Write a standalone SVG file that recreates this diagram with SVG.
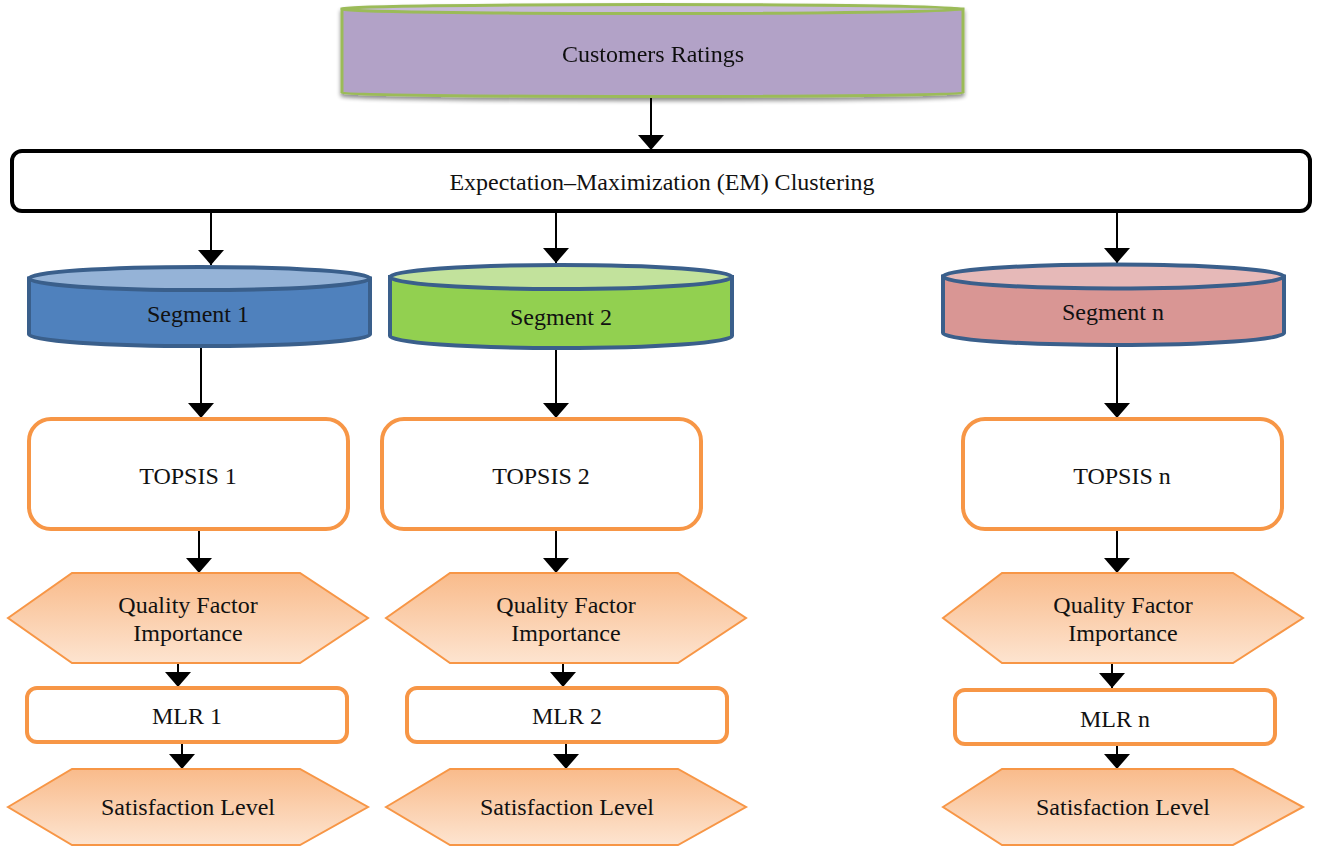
<svg xmlns="http://www.w3.org/2000/svg" width="1319" height="847" viewBox="0 0 1319 847">
  <defs>
    <style>
      .lbl { font-family: "Liberation Serif", "Times New Roman", serif; font-size: 24px; fill: #111; text-anchor: middle; }
      .wire { stroke: #000; stroke-width: 2; fill: none; }
      .orange { fill: #fff; stroke: #f79646; stroke-width: 4; }
      .hex { fill: url(#hexFill); stroke: #f79646; stroke-width: 2; }
      .seg { stroke: #3a5f8b; stroke-width: 4; }
    </style>
    <linearGradient id="hexFill" x1="0" y1="0" x2="0" y2="1">
      <stop offset="0" stop-color="#f9bb8b"/>
      <stop offset="1" stop-color="#fde4d0"/>
    </linearGradient>
    <filter id="shadow" x="-5%" y="-20%" width="110%" height="150%">
      <feGaussianBlur in="SourceAlpha" stdDeviation="2"/>
      <feOffset dy="3"/>
      <feComponentTransfer><feFuncA type="linear" slope="0.45"/></feComponentTransfer>
      <feMerge><feMergeNode/><feMergeNode in="SourceGraphic"/></feMerge>
    </filter>
    <marker id="head" viewBox="0 0 15 26" markerWidth="15" markerHeight="26" refX="15" refY="13" orient="auto" markerUnits="userSpaceOnUse">
      <path d="M0,0 L15,13 L0,26 Z" fill="#000"/>
    </marker>
  </defs>

  <rect width="1319" height="847" fill="#fff"/>

  <!-- connectors -->
  <g id="connectors">
    <line class="wire" x1="651" y1="97" x2="651" y2="150" marker-end="url(#head)"/>
    <line class="wire" x1="211" y1="212" x2="211" y2="265" marker-end="url(#head)"/>
    <line class="wire" x1="556" y1="212" x2="556" y2="263" marker-end="url(#head)"/>
    <line class="wire" x1="1117" y1="212" x2="1117" y2="263" marker-end="url(#head)"/>

    <line class="wire" x1="201" y1="347" x2="201" y2="418" marker-end="url(#head)"/>
    <line class="wire" x1="556" y1="349" x2="556" y2="418" marker-end="url(#head)"/>
    <line class="wire" x1="1117" y1="346" x2="1117" y2="418" marker-end="url(#head)"/>

    <line class="wire" x1="199" y1="530" x2="199" y2="573" marker-end="url(#head)"/>
    <line class="wire" x1="556" y1="530" x2="556" y2="573" marker-end="url(#head)"/>
    <line class="wire" x1="1117" y1="530" x2="1117" y2="573" marker-end="url(#head)"/>

    <line class="wire" x1="178" y1="663" x2="178" y2="687" marker-end="url(#head)"/>
    <line class="wire" x1="563" y1="663" x2="563" y2="687" marker-end="url(#head)"/>
    <line class="wire" x1="1112" y1="663" x2="1112" y2="688" marker-end="url(#head)"/>

    <line class="wire" x1="182" y1="743" x2="182" y2="769" marker-end="url(#head)"/>
    <line class="wire" x1="566" y1="743" x2="566" y2="769" marker-end="url(#head)"/>
    <line class="wire" x1="1117" y1="745" x2="1117" y2="769" marker-end="url(#head)"/>
  </g>

  <!-- data source -->
  <g id="customers-ratings" filter="url(#shadow)">
    <path d="M342,9 V93 A310.5,3.5 0 0 0 963,93 V9 Z" fill="#b2a2c7" stroke="#9bbb59" stroke-width="3"/>
    <ellipse cx="652.5" cy="9" rx="310.5" ry="4.5" fill="#c6bad8" stroke="#9bbb59" stroke-width="3"/>
    <text class="lbl" x="653" y="62">Customers Ratings</text>
  </g>

  <!-- clustering step -->
  <g id="em-clustering">
    <rect x="12" y="151" width="1298" height="60" rx="10" fill="#fff" stroke="#000" stroke-width="4"/>
    <text class="lbl" x="662" y="190">Expectation–Maximization (EM) Clustering</text>
  </g>

  <!-- segments -->
  <g id="segment-1">
    <path class="seg" d="M29,278.5 V334.5 A170.5,11.5 0 0 0 370,334.5 V278.5 Z" fill="#4f81bd"/>
    <ellipse class="seg" cx="199.5" cy="278.5" rx="170.5" ry="11.5" fill="#95b3d7"/>
    <text class="lbl" x="198" y="322">Segment 1</text>
  </g>
  <g id="segment-2">
    <path class="seg" d="M390,277 V336 A171,12 0 0 0 732,336 V277 Z" fill="#92d050"/>
    <ellipse class="seg" cx="561" cy="277" rx="171" ry="12" fill="#c2e29c"/>
    <text class="lbl" x="561" y="325">Segment 2</text>
  </g>
  <g id="segment-n">
    <path class="seg" d="M943,276.5 V333 A170.5,12 0 0 0 1284,333 V276.5 Z" fill="#d99694"/>
    <ellipse class="seg" cx="1113.5" cy="276.5" rx="170.5" ry="12" fill="#e6b9b8"/>
    <text class="lbl" x="1113" y="320">Segment n</text>
  </g>

  <!-- TOPSIS -->
  <g id="topsis-1">
    <rect class="orange" x="29" y="419" width="319" height="110" rx="22"/>
    <text class="lbl" x="188" y="484">TOPSIS 1</text>
  </g>
  <g id="topsis-2">
    <rect class="orange" x="382" y="419" width="319" height="110" rx="22"/>
    <text class="lbl" x="541" y="484">TOPSIS 2</text>
  </g>
  <g id="topsis-n">
    <rect class="orange" x="963" y="419" width="319" height="110" rx="22"/>
    <text class="lbl" x="1122" y="484">TOPSIS n</text>
  </g>

  <!-- quality factor importance -->
  <g id="quality-1">
    <polygon class="hex" points="8,618 72,573 300,573 368,618 300,663 72,663"/>
    <text class="lbl" x="188" y="613">Quality Factor</text>
    <text class="lbl" x="188" y="641">Importance</text>
  </g>
  <g id="quality-2">
    <polygon class="hex" points="386,618 450,573 678,573 746,618 678,663 450,663"/>
    <text class="lbl" x="566" y="613">Quality Factor</text>
    <text class="lbl" x="566" y="641">Importance</text>
  </g>
  <g id="quality-n">
    <polygon class="hex" points="943,618 1002,573 1233,573 1303,618 1233,663 1002,663"/>
    <text class="lbl" x="1123" y="613">Quality Factor</text>
    <text class="lbl" x="1123" y="641">Importance</text>
  </g>

  <!-- MLR -->
  <g id="mlr-1">
    <rect class="orange" x="27" y="688" width="320" height="54" rx="10"/>
    <text class="lbl" x="187" y="724">MLR 1</text>
  </g>
  <g id="mlr-2">
    <rect class="orange" x="407" y="688" width="320" height="54" rx="10"/>
    <text class="lbl" x="567" y="724">MLR 2</text>
  </g>
  <g id="mlr-n">
    <rect class="orange" x="955" y="690" width="320" height="54" rx="10"/>
    <text class="lbl" x="1115" y="727">MLR n</text>
  </g>

  <!-- satisfaction level -->
  <g id="satisfaction-1">
    <polygon class="hex" points="8,807 72,769 300,769 368,807 300,845 72,845"/>
    <text class="lbl" x="188" y="815">Satisfaction Level</text>
  </g>
  <g id="satisfaction-2">
    <polygon class="hex" points="386,807 450,769 678,769 746,807 678,845 450,845"/>
    <text class="lbl" x="567" y="815">Satisfaction Level</text>
  </g>
  <g id="satisfaction-n">
    <polygon class="hex" points="943,807 1002,769 1233,769 1303,807 1233,845 1002,845"/>
    <text class="lbl" x="1123" y="815">Satisfaction Level</text>
  </g>
</svg>
